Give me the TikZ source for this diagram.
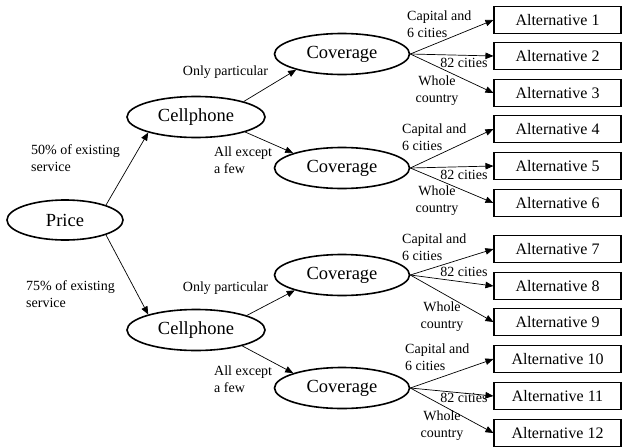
\documentclass[tikz,border=0pt]{standalone}
\usepackage{fontspec}
\setmainfont{Liberation Serif}
\usetikzlibrary{arrows.meta,shapes.geometric}

\tikzset{
  oval/.style={ellipse,draw,line width=1.6pt,inner sep=0pt,font=\fontsize{18.5}{22}\selectfont},
  altbox/.style={rectangle,draw,line width=1.1pt,minimum width=127pt,minimum height=27pt,inner sep=0pt,font=\fontsize{16}{19}\selectfont},
  lbl/.style={inner sep=0pt,align=left,font=\fontsize{14}{17}\selectfont},
  arr/.style={-{Triangle[length=8pt,width=6.5pt]},line width=0.7pt}
}

\begin{document}
\begin{tikzpicture}[x=1pt,y=-1pt]
  \useasboundingbox (0,0) rectangle (623,447);
  \node[oval,minimum width=116pt,minimum height=40pt] (price) at (65,220) {Price};
  \node[oval,minimum width=138pt,minimum height=41pt] (cell1) at (196,117) {Cellphone};
  \node[oval,minimum width=138pt,minimum height=41pt] (cell2) at (196,330) {Cellphone};
  \foreach \g/\cy in {1/54,2/168,3/275,4/388}{\node[oval,minimum width=135pt,minimum height=41pt] (cov\g) at (342,\cy) {Coverage};}
  \foreach \i/\y in {1/20,2/56,3/93,4/129,5/166,6/203,7/249,8/286,9/322,10/359,11/396,12/433}{\node[altbox] (alt\i) at (557.5,\y) {Alternative \i};}
  % price to cellphone
  \draw[arr] (price.20) -- (cell1.198);
  \draw[arr] (price.340) -- (cell2.162);
  \node[lbl,anchor=west] (p50) at (31,158.5) {50\% of existing\\service};
  \node[lbl,anchor=west] (p75) at (26,294.5) {75\% of existing\\service};
  % cellphone to coverage
  \draw[arr] (cell1.18) -- (cov1.199);
  \draw[arr] (cell1.343) -- (cov2.163);
  \draw[arr] (cell2.16) -- (cov3.198);
  \draw[arr] (cell2.341) -- (cov4.163);
  \node[lbl] (only1) at (225.5,72) {Only particular};
  \node[lbl] (only2) at (225.5,288) {Only particular};
  \node[lbl,anchor=west] (few1) at (214,160) {All except\\a few};
  \node[lbl,anchor=west] (few2) at (214,379) {All except\\a few};
  % coverage to alternatives
  \foreach \g in {1,...,4}{
    \foreach \k in {1,2,3}{
      \pgfmathtruncatemacro\j{3*(\g-1)+\k}
      \draw[arr] (cov\g.east) -- (alt\j.west);
    }
  }
  \foreach \g/\xa/\ya/\yb/\yc/\xc in {1/407/24/63/90.5/437,2/402/137/175/201/437,3/402/247/272/316.5/442,4/405/357/398/426/442}{
    \node[lbl,anchor=west] (cap\g) at (\xa,\ya) {Capital and\\6 cities};
    \node[lbl] (city\g) at (464,\yb) {82 cities};
    \node[lbl,align=center] (whole\g) at (\xc,\yc) {Whole\\country};
  }
\end{tikzpicture}
\end{document}
